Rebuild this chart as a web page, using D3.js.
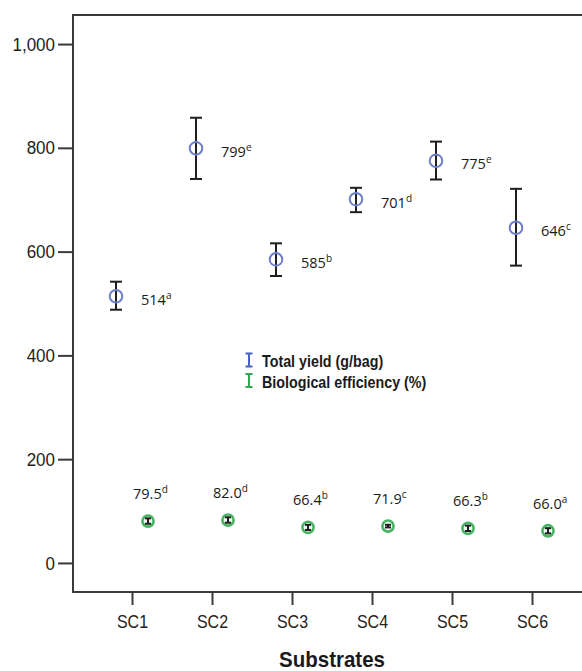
<!DOCTYPE html>
<html lang="en">
<head>
    <meta charset="UTF-8">
    <title>Total yield and biological efficiency by substrate</title>
    <script src="https://d3js.org/d3.v7.min.js"></script>
    <style>
        body { margin: 0; background: #fff; }
        svg { display: block; }
        .axis text { font-family: "Liberation Sans", Arial, sans-serif; fill: #222; }
        .axis line { stroke: #3a3a3a; stroke-width: 2px; }
        .lbl { font-family: "Open Sans", sans-serif; font-size: 14.5px; fill: #1a1a1a; }
    </style>
</head>
<body>
    <svg width="582" height="671"></svg>

    <script>
        // data
        const substrates = ["SC1", "SC2", "SC3", "SC4", "SC5", "SC6"];

        const yieldMean = [514, 799, 585, 701, 775, 646];
        const yieldLow  = [488, 740, 553, 676, 739, 573];
        const yieldHigh = [542, 858, 616, 723, 812, 721];
        const yieldText = ["514", "799", "585", "701", "775", "646"];
        const yieldSup  = ["a", "e", "b", "d", "e", "c"];

        const beMean = [80.7, 82.7, 68.6, 71.1, 66.7, 62.0];
        const beLow  = [75.5, 77.5, 63.5, 68.5, 61.5, 57.0];
        const beHigh = [86.0, 88.0, 73.5, 73.5, 72.0, 67.0];
        const beText = ["79.5", "82.0", "66.4", "71.9", "66.3", "66.0"];
        const beSup  = ["d", "d", "b", "c", "b", "a"];

        const yTicks = [0, 200, 400, 600, 800, 1000];

        const legendItems = ["Total yield (g/bag)", "Biological efficiency (%)"];
        const legendColors = ["#4a62c4", "#2fa850"];

        const svg = d3.select("svg");

        const plotLeft = 73, plotTop = 15, plotBottom = 592, plotRight = 591;

        const x = d3.scalePoint()
            .domain(substrates)
            .range([plotLeft, plotRight])
            .padding(0.7375);

        const y = d3.scaleLinear()
            .domain([-56, 1056])
            .range([plotBottom, plotTop]);

        const dodge = 16;

        // frame (right edge runs off the picture)
        svg.append("rect")
            .attr("x", plotLeft).attr("y", plotTop)
            .attr("width", 640).attr("height", plotBottom - plotTop)
            .attr("fill", "none")
            .attr("stroke", "#3a3a3a")
            .attr("stroke-width", 2);

        // y axis
        const yAxis = svg.append("g")
            .attr("class", "axis")
            .attr("transform", `translate(${plotLeft},0)`)
            .call(d3.axisLeft(y).tickValues(yTicks).tickSize(15).tickPadding(3).tickFormat(d3.format(",")));
        yAxis.select(".domain").remove();
        yAxis.selectAll("text")
            .style("font-size", "17px")
            .attr("transform", "scale(1,1.13)");

        // x axis
        const xAxis = svg.append("g")
            .attr("class", "axis")
            .attr("transform", `translate(0,${plotBottom})`)
            .call(d3.axisBottom(x).tickSize(13).tickPadding(6.6));
        xAxis.select(".domain").remove();
        xAxis.selectAll("text")
            .style("font-size", "16px")
            .attr("transform", "scale(1,1.16)");

        svg.append("text")
            .attr("transform", "translate(332,667) scale(1,1.08)")
            .attr("text-anchor", "middle")
            .style("font-family", "'Liberation Sans', Arial, sans-serif")
            .style("font-weight", "bold")
            .style("font-size", "20.5px")
            .style("fill", "#1a1a1a")
            .text("Substrates");

        // error bars
        function errorBars(cls, xs, lo, hi, cap) {
            const g = svg.append("g").attr("class", cls)
                .attr("stroke", "#1e1e1e").attr("stroke-width", 2);
            substrates.forEach((s, i) => {
                const cx = xs(s);
                g.append("line").attr("x1", cx).attr("x2", cx)
                    .attr("y1", y(lo[i])).attr("y2", y(hi[i]));
                g.append("line").attr("x1", cx - cap).attr("x2", cx + cap)
                    .attr("y1", y(lo[i])).attr("y2", y(lo[i]));
                g.append("line").attr("x1", cx - cap).attr("x2", cx + cap)
                    .attr("y1", y(hi[i])).attr("y2", y(hi[i]));
            });
        }

        const xYield = s => x(s) - dodge;
        const xBe = s => x(s) + dodge;

        // total yield
        errorBars("yield-err", xYield, yieldLow, yieldHigh, 6);
        svg.append("g").selectAll("circle")
            .data(substrates)
            .join("circle")
            .attr("cx", d => xYield(d))
            .attr("cy", (d, i) => y(yieldMean[i]))
            .attr("r", 6.3)
            .attr("fill", "none")
            .attr("stroke", "#6a7ecb")
            .attr("stroke-width", 2);

        // biological efficiency
        svg.append("g").selectAll("circle")
            .data(substrates)
            .join("circle")
            .attr("cx", d => xBe(d))
            .attr("cy", (d, i) => y(beMean[i]))
            .attr("r", 5.6)
            .attr("fill", "#eef8f0")
            .attr("stroke", "#46b463")
            .attr("stroke-width", 2.6);
        errorBars("be-err", xBe, beLow, beHigh, 3);

        // value labels
        const yl = svg.append("g").selectAll("text")
            .data(substrates)
            .join("text")
            .attr("class", "lbl")
            .attr("x", d => xYield(d) + 25)
            .attr("y", (d, i) => y(yieldMean[i]) + 8.5);
        yl.append("tspan").text((d, i) => yieldText[i]);
        yl.append("tspan").attr("dy", -6).style("font-size", "10px").text((d, i) => yieldSup[i]);

        const bl = svg.append("g").selectAll("text")
            .data(substrates)
            .join("text")
            .attr("class", "lbl")
            .attr("x", d => xBe(d) - 15)
            .attr("y", (d, i) => y(beMean[i]) - 22);
        bl.append("tspan").text((d, i) => beText[i]);
        bl.append("tspan").attr("dy", -6).style("font-size", "10px").text((d, i) => beSup[i]);

        // legend
        const legend = svg.append("g").attr("transform", "translate(249,360)");
        legendItems.forEach((name, i) => {
            const g = legend.append("g").attr("transform", `translate(0,${i * 20.5})`);
            g.append("path")
                .attr("d", "M-3.5,-6.5H3.5M0,-6.5V6.5M-3.5,6.5H3.5")
                .attr("fill", "none")
                .attr("stroke", legendColors[i])
                .attr("stroke-width", 2);
            g.append("text")
                .attr("transform", "translate(13,7) scale(1,1.15)")
                .style("font-family", "'Liberation Sans', Arial, sans-serif")
                .style("font-weight", "bold")
                .style("font-size", "14.3px")
                .style("fill", "#1a1a1a")
                .text(name);
        });
    </script>
</body>
</html>
